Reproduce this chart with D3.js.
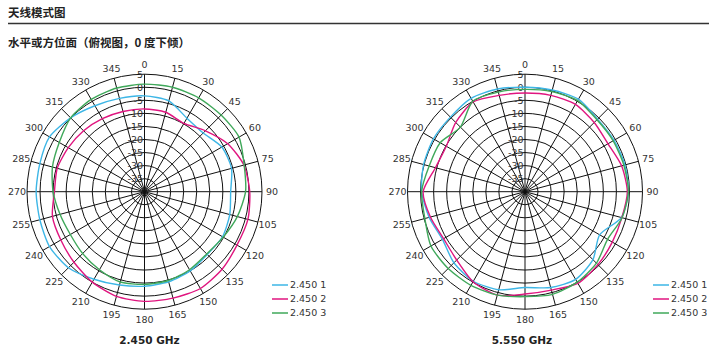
<!DOCTYPE html>
<html><head><meta charset="utf-8">
<script src="https://cdn.jsdelivr.net/npm/d3@7"></script>
<style>
body{margin:0;background:#fff;}
svg{display:block;}
</style></head>
<body>
<svg id="chart" width="709" height="363"></svg>
<script>
// ---- data ----
const angles = [0,15,30,45,60,75,90,105,120,135,150,165,180,195,210,225,240,255,270,285,300,315,330,345];
const ringValues = [5,0,-5,-10,-15,-20,-25,-30,-35];
const seriesNames = ["2.450 1","2.450 2","2.450 3"];
const chartTitles = ["2.450 GHz","5.550 GHz"];
// 2.450 GHz
const g24_s1 = [-3.3,-4,-7.5,-8.2,-5.8,-5.5,-7,-6.2,-5.5,-6,-5,-4.3,-3.8,-3,-1.3,1.2,2,1.5,1.5,1.5,2,0,-2,-3];
const g24_s2 = [-8.3,-8.5,-9.8,-7,-3.2,-0.6,0.3,1,0.9,2,2.8,2.2,2,1.5,0,-1.8,-3,-3.5,-5.5,-5.4,-6.3,-7,-7.7,-8.2];
const g24_s3 = [1.2,1.4,1.5,1.5,1.8,-0.5,-1.3,-3.2,-5.2,-6.3,-5.5,-4.8,-4.5,-4.2,-5.5,-6.5,-7.2,-6.5,-5,-3.5,-2.3,0,0.8,1.1];
// 5.550 GHz
const g55_s1 = [0,0.3,0.9,-0.7,-0.6,-0.4,-0.4,-1.8,-7,-3.2,-1.2,-2,-3.3,-1.1,-0.4,-1.5,-3.5,-2,-0.4,0.2,0.5,0.4,1.3,0.7];
const g55_s2 = [-2.2,-1.8,-1.4,-2.5,-3.3,-1.7,-0.8,-1.6,-1.4,-0.5,0.5,-1,-0.8,1,-0.2,-3,-4,-2.5,-1,-4.5,-5.2,-2.5,-0.3,-1.8];
const g55_s3 = [-0.8,-0.3,0.3,-1,-1,-0.8,-0.4,-1.5,-3.5,-1.3,0,0.7,0.2,1,1.4,1.6,1.6,-0.3,-0.4,-2,-2.5,-5,0,-0.5];

const colors = ["#3db6e6","#e0157f","#3fa85a"];
const charts = [
  {cx:144.5, cy:191.7, series:[g24_s1,g24_s2,g24_s3], title:chartTitles[0], tx:149.5, lx:272},
  {cx:525, cy:191.7, series:[g55_s1,g55_s2,g55_s3], title:chartTitles[1], tx:522, lx:653}
];
const R = 117.5;
const rScale = d3.scaleLinear().domain([-40,5]).range([0,R]);
const spokeAngles = d3.range(0,360,15);
const font = "'DejaVu Sans', Verdana, sans-serif";
const cjk = "'Noto Sans CJK SC', sans-serif";

const svg = d3.select("#chart");

// header
svg.append("text").attr("x",8).attr("y",17).attr("font-family",cjk).attr("font-weight","bold")
  .attr("font-size",11.5).attr("fill","#222").text("天线模式图");
svg.append("line").attr("x1",8).attr("x2",709).attr("y1",23.5).attr("y2",23.5)
  .attr("stroke","#333").attr("stroke-width",1.5);
svg.append("text").attr("x",8).attr("y",47).attr("font-family",cjk).attr("font-weight","bold")
  .attr("font-size",11.5).attr("fill","#222").text("水平或方位面（俯视图，0 度下倾）");

charts.forEach(ch=>{
  const g = svg.append("g").attr("transform",`translate(${ch.cx},${ch.cy})`);
  ringValues.forEach(v=>{
    g.append("circle").attr("r", rScale(v)).attr("fill","none").attr("stroke","#111").attr("stroke-width",1);
  });
  spokeAngles.forEach(a=>{
    const t = a*Math.PI/180;
    g.append("line").attr("x1",0).attr("y1",0)
      .attr("x2", R*Math.sin(t)).attr("y2", -R*Math.cos(t))
      .attr("stroke","#111").attr("stroke-width",1);
  });
  ringValues.forEach(v=>{
    g.append("text").attr("x",-1.5).attr("y",-rScale(v)).attr("dy","0.35em")
      .attr("text-anchor","end").attr("font-family",font).attr("font-size",9.5)
      .attr("fill","#333").text(v);
  });
  spokeAngles.forEach(a=>{
    const t = a*Math.PI/180, rr = R+10;
    g.append("text").attr("x", rr*Math.sin(t)).attr("y", -rr*Math.cos(t)).attr("dy","0.35em")
      .attr("text-anchor","middle").attr("font-family",font).attr("font-size",9.5)
      .attr("fill","#333").text(a);
  });
  const line = d3.lineRadial()
    .angle(d=>d[0]*Math.PI/180).radius(d=>rScale(d[1]))
    .curve(d3.curveCardinalClosed.tension(0.3));
  ch.series.forEach((s,i)=>{
    g.append("path").attr("d", line(angles.map((a,k)=>[a,s[k]])))
      .attr("fill","none").attr("stroke",colors[i]).attr("stroke-width",1.4);
  });
  svg.append("text").attr("x",ch.tx).attr("y",344).attr("text-anchor","middle")
    .attr("font-family",font).attr("font-weight","bold").attr("font-size",10.5)
    .attr("fill","#222").text(ch.title);
  seriesNames.forEach((n,i)=>{
    const y = 285 + i*14;
    svg.append("line").attr("x1",ch.lx).attr("x2",ch.lx+16).attr("y1",y).attr("y2",y)
      .attr("stroke",colors[i]).attr("stroke-width",1.5);
    svg.append("text").attr("x",ch.lx+18).attr("y",y).attr("dy","0.35em")
      .attr("font-family",font).attr("font-size",9.5).attr("fill","#333").text(n);
  });
});
</script>
</body></html>
